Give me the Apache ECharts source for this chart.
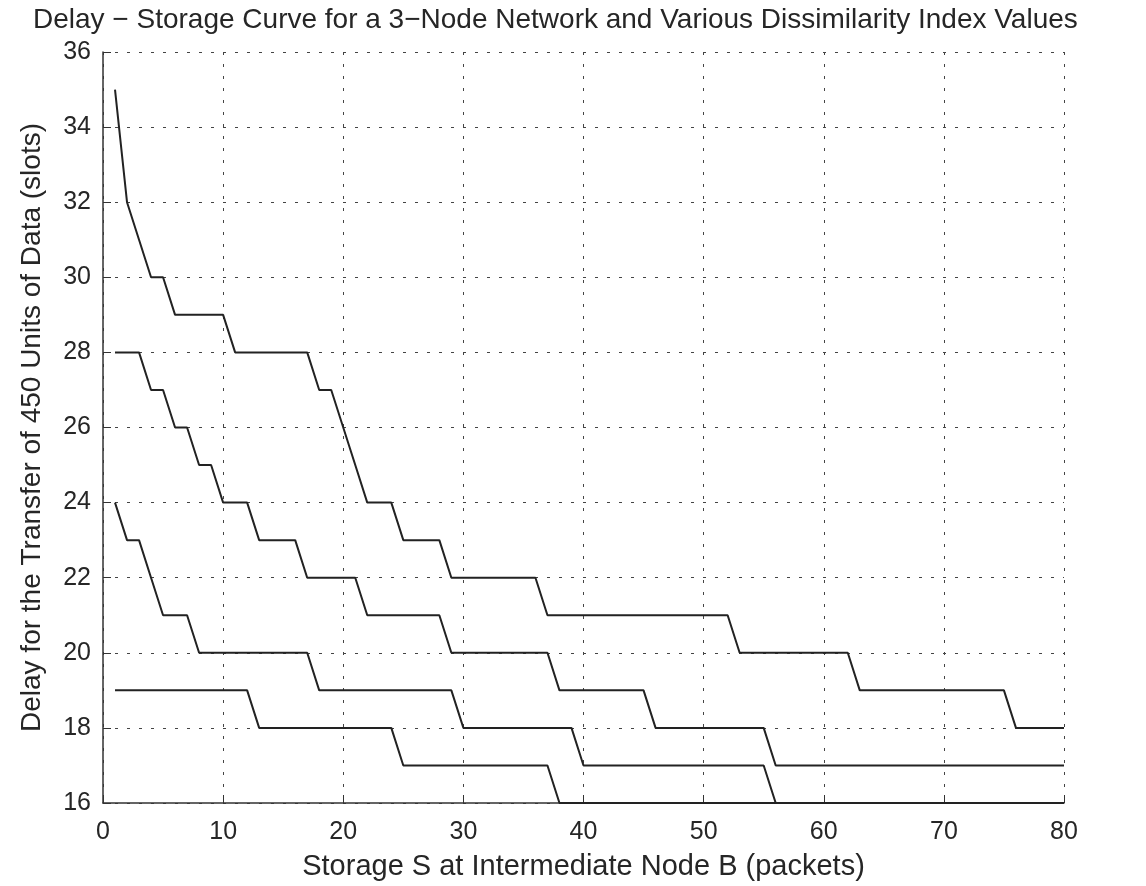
<!DOCTYPE html>
<html>
<head>
<meta charset="utf-8">
<title>Delay - Storage Curve</title>
<script src="https://cdn.jsdelivr.net/npm/echarts@6/dist/echarts.min.js"></script>
<style>
  html, body { margin: 0; padding: 0; background: #ffffff; }
  #chart { width: 1146px; height: 886px; }
</style>
</head>
<body>
<div id="chart"></div>
<script>
// storage S at node B (packets)
const storage = [
  1, 2, 3, 4, 5, 6, 7, 8, 9, 10,
  11, 12, 13, 14, 15, 16, 17, 18, 19, 20,
  21, 22, 23, 24, 25, 26, 27, 28, 29, 30,
  31, 32, 33, 34, 35, 36, 37, 38, 39, 40,
  41, 42, 43, 44, 45, 46, 47, 48, 49, 50,
  51, 52, 53, 54, 55, 56, 57, 58, 59, 60,
  61, 62, 63, 64, 65, 66, 67, 68, 69, 70,
  71, 72, 73, 74, 75, 76, 77, 78, 79, 80
];

// delay (slots), one curve per dissimilarity index value, top to bottom
const delayA = [
  35, 32, 31, 30, 30, 29, 29, 29, 29, 29,
  28, 28, 28, 28, 28, 28, 28, 27, 27, 26,
  25, 24, 24, 24, 23, 23, 23, 23, 22, 22,
  22, 22, 22, 22, 22, 22, 21, 21, 21, 21,
  21, 21, 21, 21, 21, 21, 21, 21, 21, 21,
  21, 21, 20, 20, 20, 20, 20, 20, 20, 20,
  20, 20, 19, 19, 19, 19, 19, 19, 19, 19,
  19, 19, 19, 19, 19, 18, 18, 18, 18, 18
];
const delayB = [
  28, 28, 28, 27, 27, 26, 26, 25, 25, 24,
  24, 24, 23, 23, 23, 23, 22, 22, 22, 22,
  22, 21, 21, 21, 21, 21, 21, 21, 20, 20,
  20, 20, 20, 20, 20, 20, 20, 19, 19, 19,
  19, 19, 19, 19, 19, 18, 18, 18, 18, 18,
  18, 18, 18, 18, 18, 17, 17, 17, 17, 17,
  17, 17, 17, 17, 17, 17, 17, 17, 17, 17,
  17, 17, 17, 17, 17, 17, 17, 17, 17, 17
];
const delayC = [
  24, 23, 23, 22, 21, 21, 21, 20, 20, 20,
  20, 20, 20, 20, 20, 20, 20, 19, 19, 19,
  19, 19, 19, 19, 19, 19, 19, 19, 19, 18,
  18, 18, 18, 18, 18, 18, 18, 18, 18, 17,
  17, 17, 17, 17, 17, 17, 17, 17, 17, 17,
  17, 17, 17, 17, 17, 16, 16, 16, 16, 16,
  16, 16, 16, 16, 16, 16, 16, 16, 16, 16,
  16, 16, 16, 16, 16, 16, 16, 16, 16, 16
];
const delayD = [
  19, 19, 19, 19, 19, 19, 19, 19, 19, 19,
  19, 19, 18, 18, 18, 18, 18, 18, 18, 18,
  18, 18, 18, 18, 17, 17, 17, 17, 17, 17,
  17, 17, 17, 17, 17, 17, 17, 16, 16, 16,
  16, 16, 16, 16, 16, 16, 16, 16, 16, 16,
  16, 16, 16, 16, 16, 16, 16, 16, 16, 16,
  16, 16, 16, 16, 16, 16, 16, 16, 16, 16,
  16, 16, 16, 16, 16, 16, 16, 16, 16, 16
];

const curves = [delayA, delayB, delayC, delayD];

const FONT = '"Liberation Sans", Arial, Helvetica, sans-serif';
const INK = "#262626";

// MATLAB-style dotted grid
const gridLine = { show: true, lineStyle: { color: "#444444", width: 1, type: [3, 9] } };

const chart = echarts.init(document.getElementById("chart"), null, { renderer: "canvas" });

chart.setOption({
  backgroundColor: "#ffffff",
  animation: false,
  textStyle: { fontFamily: FONT, color: INK },
  title: {
    text: "Delay \u2212 Storage Curve for a 3\u2212Node Network and Various Dissimilarity Index Values",
    left: 28,
    top: 1,
    textStyle: { fontFamily: FONT, fontSize: 28, fontWeight: "normal", color: INK }
  },
  grid: { left: 103, right: 82, top: 52, bottom: 78, containLabel: false },
  xAxis: {
    type: "value",
    min: 0, max: 80, interval: 10,
    name: "Storage S at Intermediate Node B (packets)",
    nameLocation: "middle",
    nameGap: 49,
    nameTextStyle: { fontFamily: FONT, fontSize: 29, color: INK },
    axisLine: { show: true, onZero: false, lineStyle: { color: "#333333", width: 1.5 } },
    axisTick: { show: true, inside: true, length: 8, lineStyle: { color: "#333333" } },
    axisLabel: { fontFamily: FONT, fontSize: 25, color: INK, margin: 17 },
    splitLine: gridLine
  },
  yAxis: {
    type: "value",
    min: 16, max: 36, interval: 2,
    name: "Delay for the Transfer of 450 Units of Data (slots)",
    nameLocation: "middle",
    nameGap: 57,
    nameTextStyle: { fontFamily: FONT, fontSize: 28, color: INK },
    axisLine: { show: true, lineStyle: { color: "#333333", width: 1.5 } },
    axisTick: { show: true, inside: true, length: 8, lineStyle: { color: "#333333" } },
    axisLabel: { fontFamily: FONT, fontSize: 25, color: INK, margin: 12 },
    splitLine: gridLine
  },
  series: curves.map((vals) => ({
    type: "line",
    data: storage.map((s, i) => [s, vals[i]]),
    showSymbol: false,
    clip: false,
    lineStyle: { color: "#222222", width: 2 }
  }))
});
</script>
</body>
</html>
